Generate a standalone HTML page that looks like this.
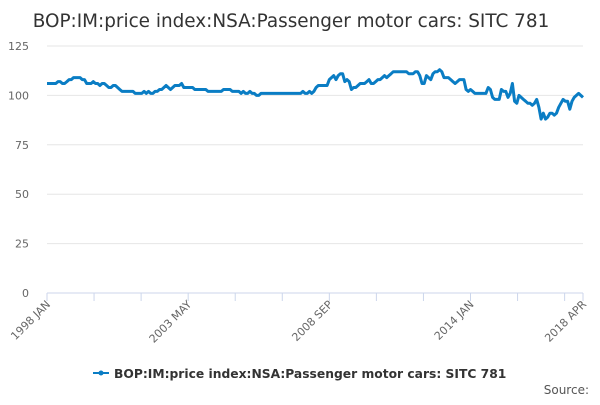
<!DOCTYPE html>
<html><head><meta charset="utf-8"><style>
body{margin:0;background:#fff;font-family:"Liberation Sans","DejaVu Sans",sans-serif;}
svg text{font-family:"DejaVu Sans","Liberation Sans",sans-serif;}
</style></head><body>
<svg id="c" width="600" height="400" xmlns="http://www.w3.org/2000/svg">
<text x="291" y="27" text-anchor="middle" font-size="18.4" fill="#333">BOP:IM:price index:NSA:Passenger motor cars: SITC 781</text>
<g id="grid"></g><g id="xax"></g><g id="series"></g>
<g>
<line x1="93" y1="373" x2="109" y2="373" stroke="#0a7dc4" stroke-width="2"/>
<circle cx="101" cy="373" r="2.5" fill="#0a7dc4"/>
<text x="114" y="378" font-size="12.3" font-weight="bold" fill="#333">BOP:IM:price index:NSA:Passenger motor cars: SITC 781</text>
</g>
<text x="589" y="394" text-anchor="end" font-size="12" fill="#555">Source:</text>
</svg>
<script>
const yTicks=[0,25,50,75,100,125];
const xLabels=["1998 JAN","2003 MAY","2008 SEP","2014 JAN","2018 APR"];
const xLabelIdx=[0,64,128,192,243];
const values=[
106,106,106,106,106,107,107,106,106,107,108,108,
109,109,109,109,108,108,106,106,106,107,106,106,
105,106,106,105,104,104,105,105,104,103,102,102,
102,102,102,102,101,101,101,101,102,101,102,101,
101,102,102,103,103,104,105,104,103,104,105,105,
105,106,104,104,104,104,104,103,103,103,103,103,
103,102,102,102,102,102,102,102,103,103,103,103,
102,102,102,102,101,102,101,101,102,101,101,100,
100,101,101,101,101,101,101,101,101,101,101,101,
101,101,101,101,101,101,101,101,102,101,101,102,
101,102,104,105,105,105,105,105,108,109,110,108,
110,111,111,107,108,107,103,104,104,105,106,106,
106,107,108,106,106,107,108,108,109,110,109,110,
111,112,112,112,112,112,112,112,111,111,111,112,
112,110,106,106,110,109,108,111,112,112,113,112,
109,109,109,108,107,106,107,108,108,108,103,102,
103,102,101,101,101,101,101,101,104,103,99,98,
98,98,103,102,102,99,101,106,97,96,100,99,
98,97,96,96,95,96,98,94,88,91,88,89,
91,91,90,91,94,96,98,97,97,93,97,99,
100,101,100,99];
const NS="http://www.w3.org/2000/svg";
const X0=47,X1=583,Y0=293,Y1=46;
const xs=i=>X0+i*(X1-X0)/(values.length-1);
const ys=v=>Y0-(v/125)*(Y0-Y1);
function mk(t,a,p){const e=document.createElementNS(NS,t);for(const k in a)e.setAttribute(k,a[k]);p.appendChild(e);return e;}
const grid=document.getElementById('grid');
yTicks.forEach(v=>{
 const l=mk('line',{x1:X0,x2:X1,y1:ys(v),y2:ys(v),stroke:v===0?'#ccd6eb':'#e6e6e6','stroke-width':1},grid);
 
 
 const t=mk('text',{x:29,y:ys(v)+4,'text-anchor':'end','font-size':11,fill:'#666'},grid);
 t.textContent=v;
 
 
});
const xax=document.getElementById('xax');
for(let k=0;k<=11;k++){const i=k*64/3;mk('line',{x1:xs(i),x2:xs(i),y1:Y0,y2:Y0+8,stroke:'#ccd6eb'},xax);}
mk('line',{x1:xs(243),x2:xs(243),y1:Y0,y2:Y0+8,stroke:'#ccd6eb'},xax);
xLabels.forEach((s,j)=>{
 const x=xs(xLabelIdx[j]);
 const t=mk('text',{x:x+4,y:Y0+12,'text-anchor':'end','font-size':11,fill:'#666',transform:`rotate(-45 ${x+4} ${Y0+12})`},xax);
 t.textContent=s;
 
 
});
const p=mk('path',{d:values.map((v,i)=>(i?'L':'M')+xs(i).toFixed(1)+' '+ys(v).toFixed(1)).join(''),fill:'none',stroke:'#0a7dc4','stroke-width':3,'stroke-linejoin':'round'},document.getElementById('series'));


</script>
</body></html>
